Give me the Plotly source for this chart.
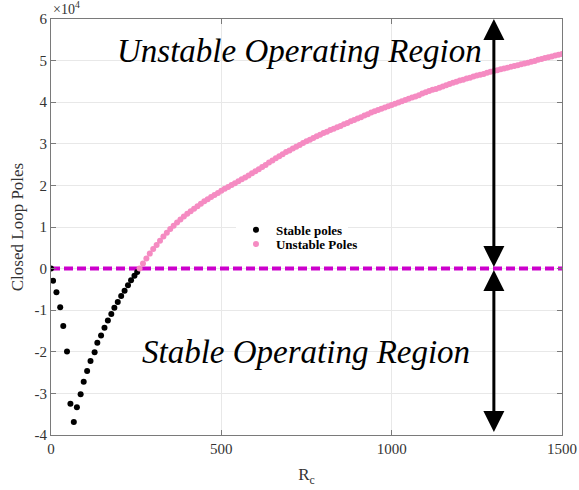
import plotly.graph_objects as go

# Closed-loop pole locations (units of 1e4) versus the controller resistance R_c
stable_rc = [0, 6, 16, 27, 36, 47, 57, 67, 76, 87, 96, 106, 116, 128, 136, 147,
             157, 167, 177, 186, 196, 206, 216, 226, 235, 245, 253]
stable_poles = [0.00, -0.29, -0.57, -0.93, -1.38, -1.99, -3.25, -3.69, -3.33,
                -3.02, -2.72, -2.46, -2.22, -2.01, -1.78, -1.61, -1.42, -1.25,
                -1.09, -0.94, -0.80, -0.66, -0.53, -0.40, -0.28, -0.17, -0.08]

unstable_rc = list(range(260, 1501, 10))
unstable_poles = [
    0.00, 0.12, 0.24, 0.36, 0.47, 0.57, 0.67, 0.77, 0.86, 0.95,
    1.03, 1.11, 1.18, 1.25, 1.32, 1.38, 1.44, 1.50, 1.56, 1.62,
    1.67, 1.72, 1.77, 1.82, 1.87, 1.92, 1.96, 2.01, 2.05, 2.10,
    2.15, 2.19, 2.24, 2.29, 2.34, 2.39, 2.44, 2.49, 2.55, 2.60,
    2.65, 2.70, 2.75, 2.80, 2.84, 2.89, 2.93, 2.97, 3.02, 3.06,
    3.10, 3.14, 3.18, 3.22, 3.26, 3.29, 3.33, 3.36, 3.40, 3.43,
    3.47, 3.50, 3.54, 3.57, 3.61, 3.64, 3.68, 3.71, 3.75, 3.78,
    3.81, 3.84, 3.87, 3.90, 3.93, 3.96, 3.99, 4.02, 4.05, 4.08,
    4.11, 4.14, 4.17, 4.21, 4.24, 4.27, 4.30, 4.32, 4.35, 4.38,
    4.41, 4.44, 4.47, 4.49, 4.52, 4.54, 4.57, 4.59, 4.62, 4.64,
    4.66, 4.68, 4.71, 4.73, 4.75, 4.77, 4.79, 4.81, 4.83, 4.85,
    4.87, 4.89, 4.91, 4.93, 4.95, 4.97, 4.99, 5.02, 5.04, 5.06,
    5.08, 5.10, 5.12, 5.14, 5.16,
]

boundary_rc = [0, 1500]
boundary_level = [0, 0]

x_ticks = [0, 500, 1000, 1500]
y_ticks = [-4, -3, -2, -1, 0, 1, 2, 3, 4, 5, 6]
y_tick_text = ["-4", "-3", "-2", "-1", "0", "1", "2", "3", "4", "5", "6"]

arrow_rc = 1300
top_level = 6
bottom_level = -3.93

SERIF = "Liberation Serif"
AXIS_GREY = "#7a7a7a"
GRID = "#e8e8e8"
LABEL = "#333333"

fig = go.Figure()

fig.add_trace(go.Scatter(
    x=boundary_rc, y=boundary_level, mode="lines",
    line=dict(color="#CC00CC", width=4, dash="9px,4px"),
    showlegend=False, hoverinfo="skip",
))
fig.add_trace(go.Scatter(
    x=stable_rc, y=stable_poles, mode="markers", name="Stable poles",
    marker=dict(color="black", size=6, symbol="circle"),
    legend="legend",
))
fig.add_trace(go.Scatter(
    x=unstable_rc, y=unstable_poles, mode="markers", name="Unstable Poles",
    marker=dict(color="#F58BC2", size=6, symbol="circle"),
    legend="legend2",
))

arrow_style = dict(
    showarrow=True, axref="x", ayref="y", xref="x", yref="y",
    arrowside="end+start", arrowhead=2, startarrowhead=2,
    arrowsize=1.4, startarrowsize=1.4, arrowwidth=3, arrowcolor="black",
    standoff=0, startstandoff=0, text="",
)
fig.add_annotation(x=arrow_rc, y=top_level, ax=arrow_rc, ay=0, **arrow_style)
fig.add_annotation(x=arrow_rc, y=bottom_level, ax=arrow_rc, ay=0, **arrow_style)

fig.add_annotation(
    x=729, y=5.22, xref="x", yref="y", showarrow=False,
    text="<i>Unstable Operating Region</i>",
    font=dict(family=SERIF, size=33, color="black"),
)
fig.add_annotation(
    x=748, y=-2.01, xref="x", yref="y", showarrow=False,
    text="<i>Stable Operating Region</i>",
    font=dict(family=SERIF, size=33, color="black"),
)
fig.add_annotation(
    x=0, y=1, xref="paper", yref="paper", xanchor="left", yanchor="bottom",
    showarrow=False, text="×10<sup>4</sup>",
    font=dict(family=SERIF, size=14, color=LABEL),
)

axis_common = dict(
    showline=True, linecolor=AXIS_GREY, linewidth=1, mirror="ticks",
    ticks="inside", ticklen=5, tickcolor=AXIS_GREY,
    showgrid=True, gridcolor=GRID, gridwidth=1, zeroline=False,
    tickfont=dict(family=SERIF, size=15, color=LABEL),
    automargin=False,
)

fig.update_xaxes(
    range=[0, 1500], tickvals=x_ticks,
    title=dict(text="R<sub>c</sub>", font=dict(family=SERIF, size=17, color=LABEL), standoff=12),
    **axis_common,
)
fig.update_yaxes(
    range=[-4, 6], tickvals=y_ticks, ticktext=y_tick_text,
    title=dict(text="Closed Loop Poles", font=dict(family=SERIF, size=17, color=LABEL), standoff=6),
    **axis_common,
)

legend_font = dict(family=SERIF, size=13, color="black", weight="bold")
fig.update_layout(
    width=579, height=490,
    margin=dict(l=51, r=17, t=19, b=55, autoexpand=False),
    paper_bgcolor="white", plot_bgcolor="white",
    legend=dict(
        x=0.362, y=0.493, xanchor="left", yanchor="middle",
        bgcolor="white", borderwidth=0, font=legend_font,
    ),
    legend2=dict(
        x=0.362, y=0.459, xanchor="left", yanchor="middle",
        bgcolor="rgba(0,0,0,0)", borderwidth=0, font=legend_font,
    ),
)

fig.write_html("out.html")
